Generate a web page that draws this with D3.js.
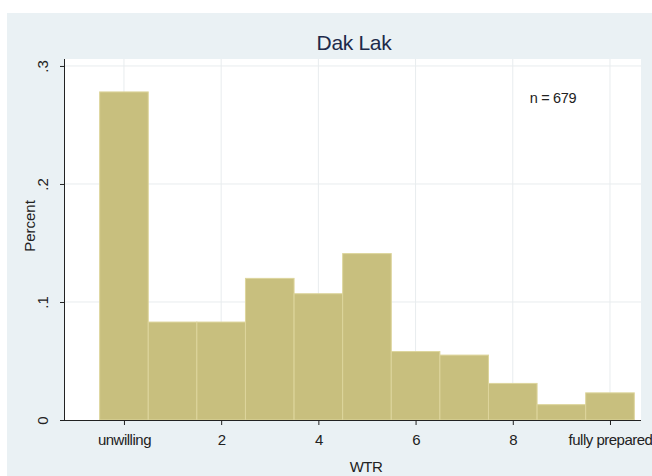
<!DOCTYPE html>
<html><head><meta charset="utf-8">
<script src="https://cdn.jsdelivr.net/npm/d3@7"></script>
<style>body{margin:0;background:#fff}svg{display:block}text{font-family:"Liberation Sans",Arial,sans-serif}</style>
</head><body><svg id="c" width="652" height="476"></svg>
<script>
const categories = [0,1,2,3,4,5,6,7,8,9,10];
const percents = [0.278,0.083,0.083,0.120,0.107,0.141,0.058,0.055,0.031,0.013,0.023];
const xTickValues = [0,2,4,6,8,10];
const xTickLabels = ["unwilling","2","4","6","8","fully prepared"];
const yTickValues = [0,0.1,0.2,0.3];
const yTickLabels = ["0",".1",".2",".3"];
const title = "Dak Lak";
const note = "n = 679";

const svg = d3.select("#c");
svg.append("rect").attr("x",7).attr("y",13).attr("width",645).attr("height",463).attr("fill","#eaf1f4");
const L=65,R=641,T=59,B=420;
svg.append("rect").attr("x",L).attr("y",T).attr("width",R-L).attr("height",B-T).attr("fill","#fff");
const x=d3.scaleLinear().domain([-1.213,10.638]).range([L,R]);
const y=d3.scaleLinear().domain([0,0.3059]).range([B,T]);
// grid
svg.append("g").selectAll("line").data(xTickValues).join("line")
 .attr("x1",d=>x(d)).attr("x2",d=>x(d)).attr("y1",T).attr("y2",B).attr("stroke","#e8ecee").attr("stroke-width",1);
svg.append("g").selectAll("line").data(yTickValues.slice(1)).join("line")
 .attr("x1",L).attr("x2",R).attr("y1",d=>y(d)).attr("y2",d=>y(d)).attr("stroke","#e8ecee").attr("stroke-width",1);
// bars
svg.append("g").selectAll("rect").data(categories).join("rect")
 .attr("x",(d)=>x(d-0.5)).attr("width",(d)=>x(d+0.5)-x(d-0.5))
 .attr("y",(d,i)=>y(percents[i])).attr("height",(d,i)=>B-y(percents[i]))
 .attr("fill","#c8bf7e").attr("stroke","#ddd59c").attr("stroke-width",1);
// axes
const xa=d3.axisBottom(x).tickValues(xTickValues).tickFormat((d,i)=>xTickLabels[i]).tickSize(5).tickSizeOuter(0);
const gx=svg.append("g").attr("transform",`translate(0,${B})`).call(xa);
gx.select(".domain").attr("stroke","#222").attr("d",`M${L},0.5H${R}`);
gx.selectAll(".tick line").attr("stroke","#222");
gx.selectAll(".tick text").attr("fill","#222").attr("font-size",15).attr("y",25).attr("dy","0").attr("letter-spacing","-0.5px");
const ya=d3.axisLeft(y).tickValues(yTickValues).tickFormat((d,i)=>yTickLabels[i]).tickSize(5).tickSizeOuter(0);
const gy=svg.append("g").attr("transform",`translate(${L},0)`).call(ya);
gy.select(".domain").attr("stroke","#222").attr("d",`M-0.5,${B}V${T}`);
gy.selectAll(".tick line").attr("stroke","#222");
gy.selectAll(".tick text").attr("fill","#222").attr("font-size",15)
 .attr("transform","rotate(-90)").attr("x",0).attr("y",-17).attr("dy","0").attr("text-anchor","middle");
// labels
svg.append("text").attr("x",354).attr("y",50).attr("text-anchor","middle").attr("font-size",21).attr("fill","#1d2a4a").attr("letter-spacing","-0.3px").text(title);
svg.append("text").attr("x",553).attr("y",103).attr("text-anchor","middle").attr("font-size",14.5).attr("fill","#222").attr("letter-spacing","-0.3px").text(note);
svg.append("text").attr("x",366).attr("y",472).attr("text-anchor","middle").attr("font-size",15).attr("fill","#222").attr("letter-spacing","-0.5px").text("WTR");
svg.append("text").attr("transform","translate(35,226) rotate(-90)").attr("text-anchor","middle").attr("font-size",15).attr("fill","#222").text("Percent");
</script></body></html>
